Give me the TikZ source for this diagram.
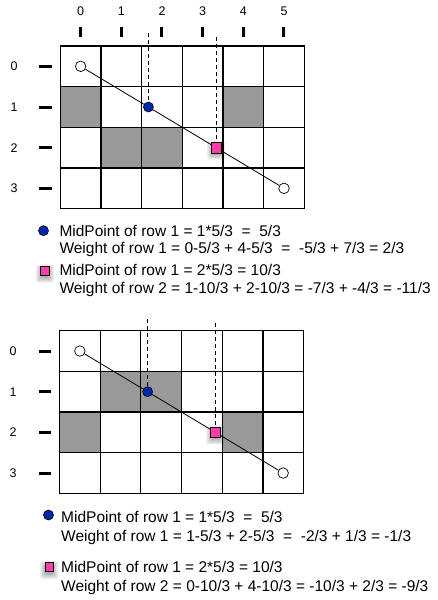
\documentclass[tikz,border=0pt]{standalone}
\usepackage{fontspec}
\setmainfont{Liberation Sans}
\usetikzlibrary{calc}
\definecolor{cellgray}{RGB}{153,153,153}
\definecolor{dotblue}{RGB}{0,40,170}
\definecolor{sqpink}{RGB}{255,60,170}
\begin{document}
\begin{tikzpicture}[x=1pt,y=-1pt,
  gridline/.style={line width=1.3pt, line cap=rect},
  tickmark/.style={line width=3pt},
  lbl/.style={font=\fontsize{12.5}{14}\selectfont, inner sep=0},
  txt/.style={font=\fontsize{15.5}{18}\selectfont, inner sep=0, anchor=base west},
  endpt/.style={circle, draw=black, fill=white, minimum size=10.5pt, inner sep=0, line width=0.7pt},
  bluedot/.style={circle, draw=black, fill=dotblue, minimum size=10pt, inner sep=0, line width=0.6pt},
  pinksq/.style={rectangle, draw=black, fill=sqpink, minimum size=10.5pt, inner sep=0, line width=0.6pt},
  legsq/.style={rectangle, draw=black, fill=sqpink, minimum size=8.5pt, inner sep=0, line width=0.6pt},
  guide/.style={dash pattern=on 4pt off 3pt, line width=0.8pt},
  diag/.style={line width=0.8pt},
  softshadow/.pic={
    \begin{scope}[x=1pt,y=-1pt]
    \foreach \k in {0,...,5}{
      \fill[black, opacity=0.06, rounded corners=2pt] (-4-\k,-4-\k+3) rectangle (4+\k,4+\k+3);
    }
    \end{scope}
  },
]
\useasboundingbox (0,0) rectangle (437,600);

% ===================== TOP GRID =====================
\begin{scope}[shift={(60.3,46)}, x=40.67pt, y=-40.67pt]
  \fill[cellgray] (0,1) rectangle (1,2);
  \fill[cellgray] (4,1) rectangle (5,2);
  \fill[cellgray] (1,2) rectangle (3,3);
  \foreach \i in {0,...,6} \draw[gridline] (\i,0) -- (\i,4);
  \foreach \j in {0,...,4} \draw[gridline] (0,\j) -- (6,\j);
  \foreach \i in {0,...,5}{
    \node[lbl] (tc\i) at (\i+0.5,-0.86) {\i};
    \draw[tickmark] (\i+0.5,-0.467) -- (\i+0.5,-0.221);
  }
  \foreach \j in {0,...,3}{
    \node[lbl] (tr\j) at (-1.138,\j+0.5) {\j};
    \draw[tickmark] (-0.516,\j+0.5) -- (-0.211,\j+0.5);
  }
  \node[endpt] (s1) at (0.5,0.5) {};
  \node[endpt] (e1) at (5.5,3.5) {};
  \draw[diag] (s1) -- (e1);
  \coordinate (d1) at (2.1667,-0.32);
  \coordinate (d2) at (3.8333,-0.22);
  \node[bluedot] (b1) at (2.1667,1.5) {};
  \pic at (3.8333,2.5) {softshadow};
  \node[pinksq] (p1) at (3.8333,2.5) {};
  \draw[guide] (d1) -- (b1);
  \draw[guide] (d2) -- (p1);
\end{scope}

% top legend
\node[bluedot] (lb1) at (43.5,230.7) {};
\node[txt] (t1) at (59.3,236.2) {MidPoint of row 1 = 1*5/3\ \ =\ \ 5/3};
\node[txt] (t2) at (59.3,253.8) {Weight of row 1 = 0-5/3 + 4-5/3\ \ =\ \ -5/3 + 7/3 = 2/3};
\pic at (45,270.7) {softshadow};
\node[legsq] (lp1) at (45,270.7) {};
\node[txt] (t3) at (59.3,275.5) {MidPoint of row 1 = 2*5/3 = 10/3};
\node[txt] (t4) at (59.3,293.8) {Weight of row 2 = 1-10/3 + 2-10/3 = -7/3 + -4/3 = -11/3};

% ===================== BOTTOM GRID =====================
\begin{scope}[shift={(59.5,330.7)}, x=40.67pt, y=-40.67pt]
  \fill[cellgray] (1,1) rectangle (3,2);
  \fill[cellgray] (0,2) rectangle (1,3);
  \fill[cellgray] (4,2) rectangle (5,3);
  \foreach \i in {0,...,6} \draw[gridline] (\i,0) -- (\i,4);
  \foreach \j in {0,...,4} \draw[gridline] (0,\j) -- (6,\j);
  \foreach \j in {0,...,3}{
    \node[lbl] (br\j) at (-1.138,\j+0.5) {\j};
    \draw[tickmark] (-0.516,\j+0.5) -- (-0.211,\j+0.5);
  }
  \node[endpt] (s2) at (0.5,0.5) {};
  \node[endpt] (e2) at (5.5,3.5) {};
  \draw[diag] (s2) -- (e2);
  \coordinate (d3) at (2.1667,-0.28);
  \coordinate (d4) at (3.8333,-0.2);
  \node[bluedot] (b2) at (2.1667,1.5) {};
  \pic at (3.8333,2.5) {softshadow};
  \node[pinksq] (p2) at (3.8333,2.5) {};
  \draw[guide] (d3) -- (b2);
  \draw[guide] (d4) -- (p2);
\end{scope}

% bottom legend
\node[bluedot] (lb2) at (48.5,515) {};
\node[txt] (t5) at (61,522.7) {MidPoint of row 1 = 1*5/3\ \ =\ \ 5/3};
\node[txt] (t6) at (61,541) {Weight of row 1 = 1-5/3 + 2-5/3\ \ =\ \ -2/3 + 1/3 = -1/3};
\pic at (49.2,567) {softshadow};
\node[legsq] (lp2) at (49.2,567) {};
\node[txt] (t7) at (61,572.7) {MidPoint of row 1 = 2*5/3 = 10/3};
\node[txt] (t8) at (61,591.7) {Weight of row 2 = 0-10/3 + 4-10/3 = -10/3 + 2/3 = -9/3};
\end{tikzpicture}
\end{document}
